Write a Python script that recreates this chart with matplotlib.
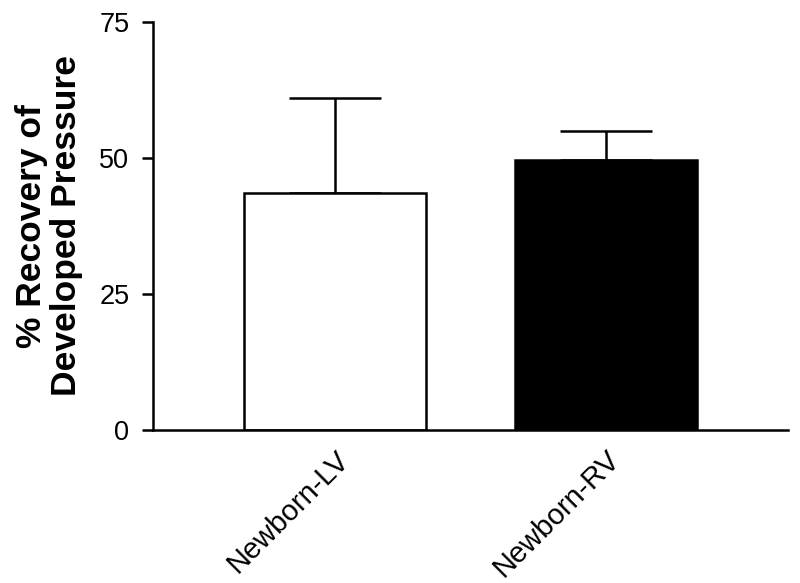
import numpy as np
import matplotlib.pyplot as plt

plt.rcParams['font.family'] = ['Liberation Sans', 'DejaVu Sans']

groups = ['Newborn-LV', 'Newborn-RV']
recovery = [43.5, 49.6]
sem = [17.5, 5.4]
bar_colors = ['white', 'black']

fig = plt.figure(figsize=(8, 5.83), dpi=100)
ax = fig.add_axes([0.19125, 0.2624, 0.79375, 0.6999])

x = np.arange(len(groups))
ax.bar(x, recovery, width=0.668, color=bar_colors, edgecolor='black', linewidth=1.8, zorder=2)
# upper error bars only
ax.errorbar(x, recovery, yerr=[np.zeros(len(sem)), sem], fmt='none', ecolor='black',
            elinewidth=1.8, capsize=32.8, capthick=1.8, zorder=1)

ax.set_xlim(-0.6716, 1.6716)
ax.set_ylim(0, 75)
ax.set_yticks([0, 25, 50, 75])
ax.set_xticks(x)
ax.set_xticklabels(groups, rotation=45, ha='right', rotation_mode='anchor')

ax.spines['top'].set_visible(False)
ax.spines['right'].set_visible(False)
ax.spines['left'].set_linewidth(1.8)
ax.spines['bottom'].set_linewidth(1.8)
ax.tick_params(axis='y', length=8, width=1.8, labelsize=19.5, pad=9)
ax.tick_params(axis='x', length=0, labelsize=21, pad=11)

ax.set_ylabel('% Recovery of\nDeveloped Pressure', fontsize=25.5, fontweight='bold',
              labelpad=12, linespacing=1.05)

fig.savefig('out.png', dpi=100)
